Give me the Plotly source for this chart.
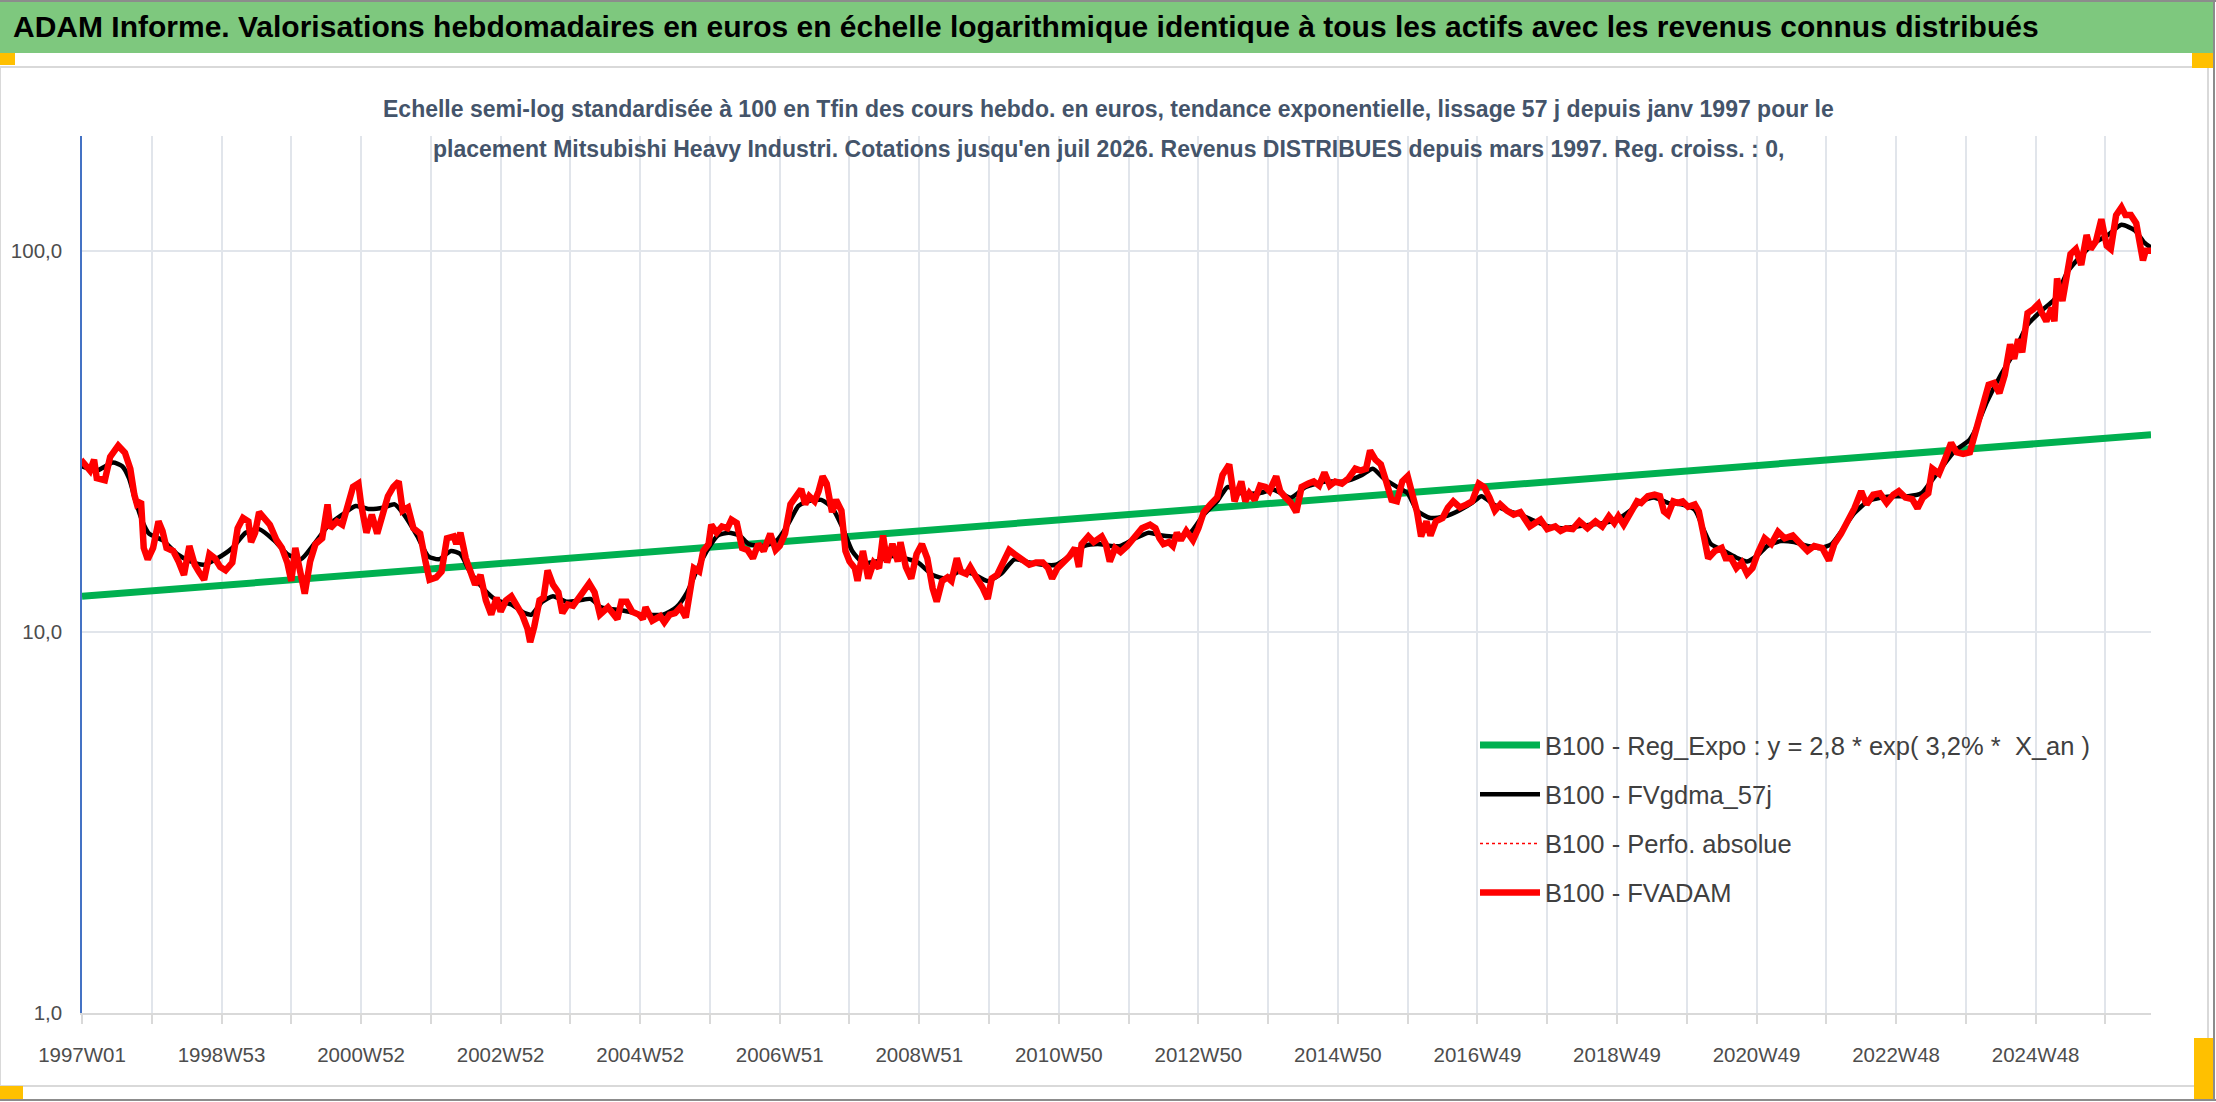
import pandas as pd
import plotly.graph_objects as go

# weekly categories, Friday quotes from 1997W01 to juil 2026
n_weeks = 1543
week_dates = pd.date_range("1997-01-03", periods=n_weeks, freq="7D")
iso = week_dates.isocalendar()
week_labels = [f"{y}W{w:02d}" for y, w in zip(iso["year"], iso["week"])]

# B100 - FVADAM (week index, value)
red_idx = [0, 1, 6, 9, 11, 17, 21, 27, 32, 36, 39, 41, 44, 46, 49, 53, 57, 60, 63, 68, 72, 76, 80, 84, 87, 91, 95, 99,
           103, 107, 112, 116, 120, 124, 126, 129, 132, 136, 140, 145, 149, 153, 156, 159, 163, 166, 170, 174, 179,
           183, 185, 190, 194, 198, 202, 206, 208, 212, 216, 220, 224, 228, 232, 236, 239, 243, 247, 252, 256, 259,
           264, 268, 272, 277, 279, 282, 286, 289, 293, 297, 301, 305, 309, 312, 316, 320, 324, 328, 332, 334, 337,
           341, 344, 347, 351, 355, 358, 362, 366, 370, 374, 378, 382, 386,
           392, 399, 402, 406, 410, 415, 418, 420, 425, 431, 434, 438, 442, 446, 450, 452, 456, 460, 463, 467,
           469, 473, 477, 481, 484, 488, 492, 496, 500, 504, 508, 513, 517, 520, 524, 528, 532, 536, 539, 542, 546,
           549, 552, 555, 559, 562, 566, 569, 572, 576, 578, 582, 586, 590, 594, 597, 600, 604, 608, 610, 614, 618,
           622, 626, 630, 634, 637, 641, 645, 648, 652, 655, 659, 662, 667, 671, 675, 678, 682, 686, 691, 695, 700,
           706, 711, 716, 720, 723, 727, 731, 736, 740, 743, 745, 750, 754, 760, 763, 766, 770,
           774, 779, 785, 790, 796, 800, 803, 806, 810, 813, 816, 819, 823, 828, 832, 836, 841, 846, 850, 855, 859,
           864, 867, 870, 874, 878, 882, 885, 890, 893, 897, 901, 905, 909, 914, 918, 922, 926, 930, 934, 939, 944,
           949, 953, 957, 960, 964, 968, 972, 976, 980, 984, 988, 992, 995, 998, 1002, 1005, 1009, 1014, 1018, 1022,
           1027, 1032, 1036, 1041, 1045, 1049, 1053, 1057, 1062, 1067, 1072, 1079, 1083, 1087, 1092, 1098, 1102,
           1106, 1111, 1116, 1122, 1128, 1133, 1138, 1142, 1145, 1149, 1154, 1159,
           1162, 1167, 1172, 1176, 1179, 1182, 1186, 1189, 1193, 1197, 1202, 1205, 1208, 1212, 1217, 1222, 1225,
           1229, 1233, 1237, 1241, 1245, 1249, 1254, 1259, 1264, 1269, 1275, 1281, 1286, 1291, 1297, 1302, 1306,
           1311, 1316, 1321, 1326, 1330, 1335, 1340, 1345, 1350, 1354, 1359, 1364, 1368, 1372, 1376, 1379, 1384,
           1388, 1393, 1397, 1402, 1407, 1410, 1414, 1418, 1421, 1425, 1429, 1433, 1437, 1440, 1443, 1446, 1450,
           1454, 1458, 1460, 1464, 1468, 1470, 1472, 1476, 1478, 1482, 1486, 1490, 1494, 1497, 1501, 1505, 1509,
           1512, 1516, 1520, 1523, 1527, 1531, 1533, 1536, 1538, 1542]
red_val = [27.5, 27.8, 26.5, 28.3, 25.3, 25.0, 28.8, 30.8, 29.5, 26.8, 22.9, 21.6, 22.0, 16.6, 15.5, 16.6, 19.5, 18.4,
           16.6, 16.3, 15.3, 14.1, 16.8, 15.0, 14.4, 13.7, 16.0, 15.6, 14.8, 14.5, 15.2, 18.7, 19.9, 19.5, 17.2, 18.2,
           20.6, 19.7, 19.1, 17.4, 16.6, 15.2, 13.6, 16.6, 13.9, 12.6, 15.3, 17.0, 17.6, 21.6, 18.7, 19.5, 19.1, 21.6,
           24.0, 24.5, 21.6, 18.2, 20.3, 18.1, 20.6, 22.7, 24.0, 24.8, 20.8, 21.2, 18.7, 18.1, 15.3, 13.7, 13.9, 14.4,
           17.6, 17.8, 17.0, 18.2, 15.6, 14.4, 13.3, 14.1, 12.1, 11.1, 12.3, 11.3, 12.1, 12.4, 11.8, 11.1, 10.2, 9.4,
           10.3, 12.1, 12.3, 14.5, 13.3, 12.7, 11.2, 11.8, 11.7, 12.3, 12.7, 13.4, 12.7, 11.1,
           11.6, 10.8, 12.0, 12.0, 11.3, 11.1, 10.8, 11.6, 10.7, 11.0, 10.6, 11.1, 11.2, 11.6, 10.9, 12.3, 14.7,
           14.4, 16.3, 17.0, 19.1, 18.2, 18.9, 18.7, 19.7, 19.3, 16.6, 16.4, 15.6, 17.0, 16.3, 18.1, 16.4, 16.8, 18.1,
           21.6, 22.5, 23.7, 21.6, 22.7, 22.0, 23.4, 25.6, 24.5, 20.6, 22.2, 20.8, 16.3, 15.3, 14.7, 13.6, 16.3, 13.8,
           15.2, 14.7, 17.9, 15.2, 17.0, 15.3, 17.2, 14.8, 13.8, 16.0, 17.0, 15.6, 13.0, 12.0, 13.6, 13.9, 13.6, 15.6,
           14.4, 14.2, 14.8, 13.8, 13.1, 12.2, 13.8, 14.1, 15.0, 16.4, 16.0, 15.6, 15.0, 15.2, 15.2, 14.7, 13.8, 14.7,
           15.2, 15.8, 16.6, 14.8, 17.0, 17.8, 17.2, 17.8, 17.0, 15.3, 16.6,
           16.2, 16.8, 17.9, 18.7, 19.1, 18.7, 17.6, 17.0, 17.2, 16.8, 18.2, 17.4, 18.4, 17.4, 18.7, 20.6, 21.6,
           22.5, 25.8, 27.5, 22.0, 24.8, 22.0, 23.1, 22.2, 24.2, 24.0, 23.4, 25.6, 23.4, 22.5, 21.8, 20.6, 24.0, 24.5,
           24.8, 24.2, 26.2, 24.2, 24.8, 24.5, 25.3, 26.8, 26.5, 26.8, 29.9, 28.3, 27.5, 24.8, 22.2, 22.0, 24.8, 25.6,
           22.7, 20.6, 17.8, 19.5, 17.9, 19.5, 19.9, 21.2, 22.0, 21.2, 21.6, 22.0, 24.5, 24.0, 22.5, 20.8, 21.6, 20.8,
           20.3, 20.6, 18.9, 19.3, 19.7, 18.6, 18.9, 18.4, 18.7, 18.6, 19.5, 18.7, 19.5, 18.9, 20.1, 19.3, 20.1, 19.1,
           20.6, 22.0,
           21.8, 22.7, 22.9, 22.7, 20.7, 20.3, 22.0, 21.8, 22.0, 21.3, 21.6, 20.7, 18.4, 15.6, 16.3, 16.6, 15.6,
           15.6, 14.7, 15.2, 14.2, 14.7, 16.1, 17.6, 17.0, 18.3, 17.6, 17.9, 17.0, 16.3, 16.8, 16.6, 15.4, 17.0, 18.1,
           19.5, 21.1, 23.4, 21.6, 22.9, 23.1, 21.8, 22.9, 23.4, 22.5, 22.3, 21.1, 22.5, 23.1, 26.8, 26.0, 28.1, 31.3,
           29.6, 29.3, 29.6, 32.2, 35.7, 40.3, 44.5, 45.0, 42.3, 47.2, 56.8, 52.0, 58.6, 54.1, 68.6, 70.1, 72.4, 69.4,
           65.3, 70.9, 65.3, 84.6, 73.8, 81.1, 98.0, 101, 91.8, 110, 101, 106, 121, 103, 101, 124, 130, 124, 124, 118,
           106, 94.3, 100, 100]

# B100 - FVgdma_57j (smoothed)
black_idx = [0, 11, 23, 30, 35, 40, 45, 50, 60, 71, 81, 91, 101, 112, 122, 132, 143, 153, 163, 173, 184, 194, 204,
             214, 225, 233, 240, 250, 258, 266, 275, 282, 289, 299, 309, 320, 330, 335, 343, 351, 361, 371, 379,
             387, 402, 418, 433, 443, 451, 459, 467, 474, 482, 490, 497, 508, 518, 526, 534, 541, 551, 559, 567,
             574, 582, 592, 603, 613, 623, 634, 644, 654, 664, 675, 685, 695, 706, 716, 726, 736, 747, 757, 767,
             774, 785, 795, 805, 816, 826, 836, 846, 854, 864, 877, 888, 901, 912, 927, 941, 954, 962, 970, 980,
             988, 995, 1005, 1016, 1026, 1036, 1043, 1052, 1062, 1072, 1083, 1093, 1103, 1114, 1124, 1134, 1144,
             1154, 1162, 1172, 1182, 1192, 1202, 1209, 1214, 1224, 1234, 1241, 1249, 1256, 1266, 1276, 1286, 1296,
             1304, 1311, 1321, 1331, 1341, 1351, 1361, 1371, 1378, 1386, 1396, 1406, 1410, 1420, 1430, 1440, 1450,
             1460, 1470, 1480, 1490, 1500, 1510, 1520, 1530, 1537, 1542]
black_val = [27.2, 26.5, 27.8, 27.2, 25.3, 22.0, 19.5, 18.1, 17.4, 16.0, 15.3, 15.0, 15.6, 16.6, 18.2, 18.6, 17.4,
             16.0, 15.5, 17.0, 19.1, 20.3, 21.4, 21.0, 21.2, 21.6, 20.3, 17.8, 15.8, 15.5, 16.3, 16.0, 14.4, 13.0,
             12.1, 11.8, 11.2, 11.1, 12.0, 12.4, 12.0, 12.1, 12.2,
             11.6, 11.4, 11.1, 11.1, 11.6, 12.7, 14.7, 16.6, 17.9, 18.2, 17.9, 17.0, 16.8, 17.4, 19.1, 21.4, 22.0,
             22.2, 21.2, 18.7, 16.3, 15.2, 15.3, 15.8, 15.6, 15.2, 14.1, 13.8, 14.4, 14.2, 13.6, 14.2, 15.5, 15.2,
             15.0, 15.0, 15.8, 16.8, 17.0, 16.8,
             16.8, 17.6, 18.2, 17.9, 17.8, 18.2, 20.3, 22.0, 24.0, 23.1, 23.1, 23.6, 22.5, 24.0, 24.8, 24.8, 25.8,
             26.8, 25.3, 24.0, 23.1, 20.8, 19.9, 20.1, 20.8, 21.8, 22.7, 21.6, 20.8, 20.3, 19.5, 18.9, 18.7, 18.9,
             19.1, 19.3, 19.7, 20.8,
             22.0, 22.5, 21.8, 21.6, 20.9, 18.4, 17.0, 16.3, 15.6, 15.3, 15.9, 16.8, 17.3, 17.2, 16.8, 16.6, 17.0,
             18.3, 20.5, 22.0, 22.5, 22.7, 22.7, 23.1, 24.8, 27.0, 29.9, 31.7, 33.3, 40.3, 47.2, 54.1, 64.0, 69.4,
             74.5, 88.3, 97.1, 105, 110, 117, 113, 105, 102]

# B100 - Reg_Expo, straight on the log scale
green_idx = [0, 1542]
green_val = [12.4, 32.9]

y_ticks = [1, 10, 100]
y_ticktext = ["1,0", "10,0", "100,0"]

names = ["B100 - Reg_Expo : y = 2,8 * exp( 3,2% *  X_an )", "B100 - FVgdma_57j",
         "B100 - Perfo. absolue", "B100 - FVADAM"]

title_txt = ("ADAM Informe. Valorisations hebdomadaires en euros en échelle logarithmique identique "
             "à tous les actifs avec les revenus connus distribués")
sub1 = ("Echelle semi-log standardisée à 100 en Tfin des cours hebdo. en euros, tendance exponentielle, "
        "lissage 57 j depuis janv 1997 pour le")
sub2 = ("placement Mitsubishi Heavy Industri. Cotations jusqu'en juil 2026. Revenus DISTRIBUES depuis mars 1997. "
        "Reg. croiss. : 0,")

W, H = 2216, 1102
ML, MR, MT, MB = 82, 65, 136, 89
PW, PH = W - ML - MR, H - MT - MB
FONT = "Liberation Sans Narrow, Arial Narrow, Liberation Sans, sans-serif"


def fx(x):
    return (x - ML) / PW


def fy(y):
    return (H - MB - y) / PH


def lab(idx):
    return [week_labels[i] for i in idx]


fig = go.Figure()
fig.add_trace(go.Scatter(x=lab(green_idx), y=green_val, mode="lines", name=names[0], legendgroup="a",
                         line=dict(color="#00B050", width=7)))
fig.add_trace(go.Scatter(x=lab(black_idx), y=black_val, mode="lines", name=names[1], legendgroup="b",
                         line=dict(color="#000000", width=4.5, shape="spline", smoothing=0.6)))
fig.add_trace(go.Scatter(x=lab(red_idx), y=red_val, mode="lines", name=names[2], legendgroup="c",
                         line=dict(color="#FF0000", width=1.5, dash="dot")))
fig.add_trace(go.Scatter(x=lab(red_idx), y=red_val, mode="lines", name=names[3], legendgroup="d",
                         line=dict(color="#FF0000", width=6.5)))

grid_ticks = week_labels[0:n_weeks:52]
grid_text = [t if i % 2 == 0 else "" for i, t in enumerate(grid_ticks)]

fig.update_xaxes(type="category", categoryorder="array", categoryarray=week_labels,
                 range=[0, n_weeks - 1], tickvals=grid_ticks, ticktext=grid_text,
                 showgrid=True, gridcolor="#E1E5EB", gridwidth=1.5,
                 showline=True, linecolor="#D9D9D9", linewidth=2,
                 ticks="outside", ticklen=9, tickcolor="#D9D9D9", tickwidth=1.5,
                 ticklabelstandoff=13, tickangle=0, automargin=False,
                 tickfont=dict(family=FONT, size=20.5, color="#4D4D4D"), zeroline=False)
fig.update_yaxes(type="log", range=[0, 2.301], tickvals=y_ticks, ticktext=y_ticktext,
                 showgrid=True, gridcolor="#E1E5EB", gridwidth=1.5,
                 showline=True, linecolor="#4472C4", linewidth=1.5, ticks="",
                 ticklabelstandoff=14, automargin=False,
                 tickfont=dict(family=FONT, size=20.5, color="#4D4D4D"), zeroline=False)

shapes = [
    dict(type="rect", x0=fx(0), x1=fx(2208), y0=fy(67), y1=fy(1086), line=dict(color="#D9D9D9", width=2)),
    dict(type="rect", x0=fx(0), x1=fx(2213), y0=fy(0), y1=fy(53), fillcolor="#7EC87E", line=dict(width=0)),
    dict(type="line", x0=fx(0), x1=fx(2216), y0=fy(1), y1=fy(1), line=dict(color="#8C8C8C", width=2)),
    dict(type="line", x0=fx(0), x1=fx(2216), y0=fy(1100), y1=fy(1100), line=dict(color="#8C8C8C", width=2)),
    dict(type="line", x0=fx(2214), x1=fx(2214), y0=fy(0), y1=fy(1100), line=dict(color="#8C8C8C", width=2)),
    dict(type="rect", x0=fx(0), x1=fx(15), y0=fy(53), y1=fy(65), fillcolor="#FFC000", line=dict(width=0)),
    dict(type="rect", x0=fx(2192), x1=fx(2213), y0=fy(53), y1=fy(68), fillcolor="#FFC000", line=dict(width=0)),
    dict(type="rect", x0=fx(0), x1=fx(23), y0=fy(1086), y1=fy(1099), fillcolor="#FFC000", line=dict(width=0)),
    dict(type="rect", x0=fx(2194), x1=fx(2213), y0=fy(1038), y1=fy(1099), fillcolor="#FFC000", line=dict(width=0)),
]
for s in shapes:
    s.update(xref="paper", yref="paper", layer="below")

annotations = [
    dict(text=f"<b>{title_txt}</b>", x=fx(11), y=fy(26), xanchor="left", yanchor="middle",
         font=dict(family=FONT, size=30, color="#000000")),
    dict(text=f"<b>{sub1}</b>", x=fx(1108), y=fy(109), xanchor="center", yanchor="middle",
         font=dict(family=FONT, size=23, color="#44546A")),
    dict(text=f"<b>{sub2}</b>", x=fx(1108), y=fy(149), xanchor="center", yanchor="middle",
         font=dict(family=FONT, size=23, color="#44546A")),
]
for a in annotations:
    a.update(xref="paper", yref="paper", showarrow=False)

fig.update_layout(
    width=W, height=H, margin=dict(l=ML, r=MR, t=MT, b=MB),
    paper_bgcolor="white", plot_bgcolor="white",
    shapes=shapes, annotations=annotations,
    showlegend=True,
    legend=dict(x=fx(1475), y=fy(722), xanchor="left", yanchor="top", bgcolor="rgba(0,0,0,0)",
                font=dict(family=FONT, size=25.5, color="#404040"), tracegroupgap=13,
                itemwidth=60, traceorder="grouped"),
    hovermode=False,
)

fig.write_html("out.html", config={"displayModeBar": False},
               post_script="document.body.style.margin='0px';document.body.style.overflow='hidden';")
